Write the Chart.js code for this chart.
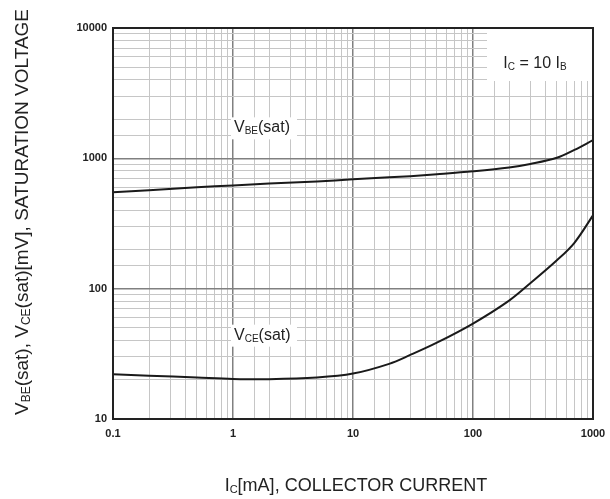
<!DOCTYPE html>
<html>
<head>
<meta charset="utf-8">
<script src="https://cdn.jsdelivr.net/npm/chart.js@4.4.0/dist/chart.umd.min.js"></script>
<style>
  html, body { margin: 0; padding: 0; background: #fff; }
  #wrap { width: 610px; height: 499px; }
</style>
</head>
<body>
<div id="wrap"><canvas id="satChart" width="610" height="499"></canvas></div>
<script>
const collectorCurrent = [0.1, 0.2, 0.5, 1, 2, 5, 10, 20, 30, 50, 100, 200, 300, 500, 700, 1000];
const vbeSat = [550, 570, 600, 620, 640, 665, 690, 715, 730, 755, 795, 850, 905, 1010, 1160, 1380];
const vceSat = [22, 21.5, 20.8, 20.3, 20.2, 20.8, 22.3, 26.5, 31, 38.5, 54, 81, 110, 165, 225, 365];
const xTickLabels = [0.1, 1, 10, 100, 1000];
const yTickLabels = [10, 100, 1000, 10000];

const FONT = "'Liberation Sans', Arial, sans-serif";
const TEXT = "#222";

function isDecade(v) {
  const l = Math.log10(v);
  return Math.abs(l - Math.round(l)) < 1e-6;
}

function points(ys) {
  return collectorCurrent.map((x, i) => ({ x: x, y: ys[i] }));
}

// draws text with subscripts: parts = [[text, isSub], ...]
function drawRich(ctx, parts, x, y, size, align) {
  const big = size + "px " + FONT;
  const small = Math.round(size * 0.62) + "px " + FONT;
  let total = 0;
  parts.forEach(p => { ctx.font = p[1] ? small : big; total += ctx.measureText(p[0]).width; });
  let cx = align === "center" ? x - total / 2 : x;
  ctx.textAlign = "left";
  ctx.textBaseline = "alphabetic";
  parts.forEach(p => {
    ctx.font = p[1] ? small : big;
    ctx.fillText(p[0], cx, p[1] ? y + size * 0.12 : y);
    cx += ctx.measureText(p[0]).width;
  });
  return total;
}

function whiteBox(ctx, x, y, w, h) {
  ctx.fillStyle = "#fff";
  ctx.fillRect(x, y, w, h);
}

const overlay = {
  id: "overlay",
  beforeDatasetsDraw(chart) {
    const ctx = chart.ctx;
    const a = chart.chartArea;
    ctx.save();
    // condition box, top right
    whiteBox(ctx, a.right - 106, a.top, 106, 53);
    ctx.fillStyle = TEXT;
    drawRich(ctx, [["I", false], ["C", true], [" = 10 I", false], ["B", true]], a.right - 58, a.top + 40, 16, "center");
    // curve labels
    const xs = chart.scales.x, ys = chart.scales.y;
    let lx = xs.getPixelForValue(1) + 1, ly = ys.getPixelForValue(1000) - 26;
    whiteBox(ctx, lx - 3, ly - 15, 66, 22);
    ctx.fillStyle = TEXT;
    drawRich(ctx, [["V", false], ["BE", true], ["(sat)", false]], lx, ly, 16, "left");
    ly = ys.getPixelForValue(100) + 51;
    whiteBox(ctx, lx - 3, ly - 15, 66, 22);
    ctx.fillStyle = TEXT;
    drawRich(ctx, [["V", false], ["CE", true], ["(sat)", false]], lx, ly, 16, "left");
    ctx.restore();
  },
  afterDraw(chart) {
    const ctx = chart.ctx;
    const a = chart.chartArea;
    ctx.save();
    ctx.strokeStyle = "#222";
    ctx.lineWidth = 2;
    ctx.strokeRect(a.left, a.top, a.right - a.left, a.bottom - a.top);
    ctx.fillStyle = TEXT;
    drawRich(ctx, [["I", false], ["C", true], ["[mA], COLLECTOR CURRENT", false]], 356, 491, 18, "center");
    ctx.translate(28, 212);
    ctx.rotate(-Math.PI / 2);
    drawRich(ctx, [["V", false], ["BE", true], ["(sat), V", false], ["CE", true], ["(sat)[mV], SATURATION VOLTAGE", false]], 0, 0, 19, "center");
    ctx.restore();
  }
};

const gridStyle = {
  color: (c) => (c.tick && isDecade(c.tick.value) ? "#808080" : "#c6c6c6"),
  lineWidth: (c) => (c.tick && isDecade(c.tick.value) ? 1.5 : 1),
  drawTicks: false
};

new Chart(document.getElementById("satChart"), {
  type: "line",
  data: {
    datasets: [
      { label: "VBE(sat)", data: points(vbeSat), borderColor: "#1a1a1a", borderWidth: 2, pointRadius: 0, tension: 0.35, fill: false },
      { label: "VCE(sat)", data: points(vceSat), borderColor: "#1a1a1a", borderWidth: 2, pointRadius: 0, tension: 0.35, fill: false }
    ]
  },
  options: {
    responsive: false,
    animation: false,
    layout: { padding: { left: 0, right: 17, top: 28, bottom: 0 } },
    plugins: { legend: { display: false }, title: { display: false }, tooltip: { enabled: false } },
    scales: {
      x: {
        type: "logarithmic",
        min: 0.1,
        max: 1000,
        grid: gridStyle,
        border: { display: false },
        afterFit: (s) => { s.height = 80; s.paddingLeft = 0; s.paddingRight = 0; },
        ticks: {
          autoSkip: false,
          maxRotation: 0,
          padding: 8,
          color: TEXT,
          font: { family: FONT, size: 11, weight: "bold" },
          callback: (v) => (xTickLabels.some(t => Math.abs(t - v) < 1e-9) ? String(v) : "")
        }
      },
      y: {
        type: "logarithmic",
        min: 10,
        max: 10000,
        grid: gridStyle,
        border: { display: false },
        afterFit: (s) => { s.width = 113; s.paddingTop = 0; s.paddingBottom = 0; },
        ticks: {
          autoSkip: false,
          padding: 6,
          color: TEXT,
          font: { family: FONT, size: 11, weight: "bold" },
          callback: (v) => (yTickLabels.includes(v) ? String(v) : "")
        }
      }
    }
  },
  plugins: [overlay]
});
</script>
</body>
</html>
